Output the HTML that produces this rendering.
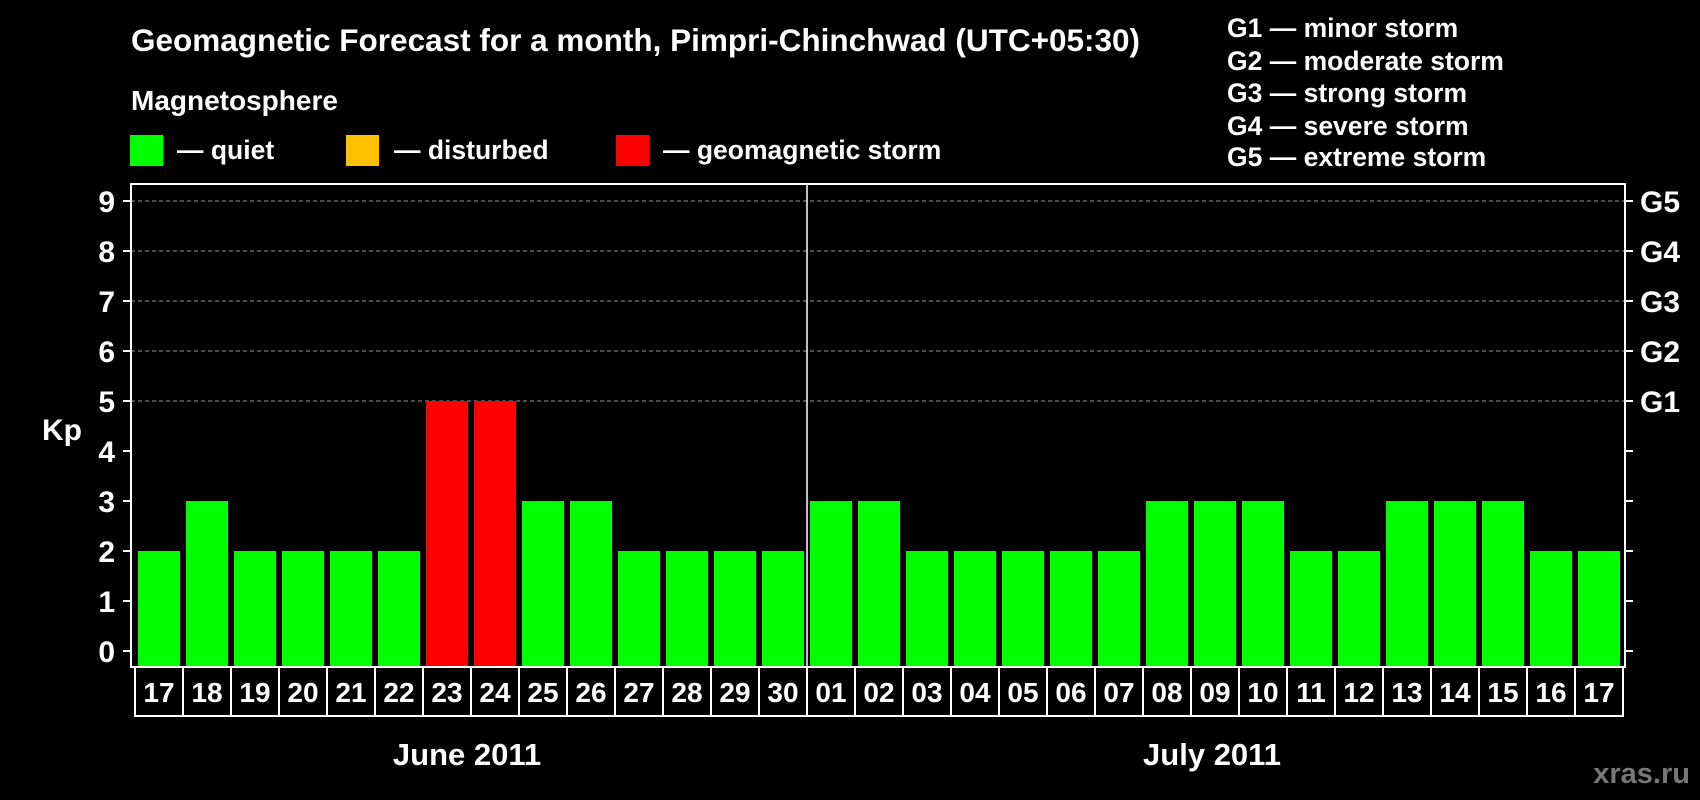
<!DOCTYPE html>
<html><head><meta charset="utf-8"><style>
html,body{margin:0;padding:0;background:#000;}
svg{display:block;font-family:"Liberation Sans",Arial,sans-serif;font-weight:bold;}
</style></head><body>
<svg id="chart" width="1700" height="800" viewBox="0 0 1700 800" xmlns="http://www.w3.org/2000/svg">
<rect width="1700" height="800" fill="#000"/>
<text x="131" y="51" fill="#fff" font-size="31.5">Geomagnetic Forecast for a month, Pimpri-Chinchwad (UTC+05:30)</text>
<text x="131" y="110" fill="#fff" font-size="28">Magnetosphere</text>
<g><rect x="130" y="135" width="33" height="31" fill="#00ff00"/><text x="177" y="159" fill="#fff" font-size="26.5">— quiet</text></g>
<g><rect x="346" y="135" width="33" height="31" fill="#ffc000"/><text x="394" y="159" fill="#fff" font-size="26.5">— disturbed</text></g>
<g><rect x="616" y="135" width="33" height="31" fill="#ff0000"/><text x="663" y="159" fill="#fff" font-size="26.5">— geomagnetic storm</text></g>
<g fill="#fff" font-size="26.5">
<text x="1227" y="37">G1 — minor storm</text>
<text x="1227" y="70">G2 — moderate storm</text>
<text x="1227" y="102">G3 — strong storm</text>
<text x="1227" y="135">G4 — severe storm</text>
<text x="1227" y="166">G5 — extreme storm</text>
</g>
<text x="42" y="440" fill="#fff" font-size="30">Kp</text>
<g id="grid"></g><g id="bars"></g><g id="axes"></g>
<text x="467" y="765" fill="#fff" font-size="31" text-anchor="middle">June 2011</text>
<text x="1212" y="765" fill="#fff" font-size="31" text-anchor="middle">July 2011</text>
<text x="1690" y="783" fill="#777" font-size="29" text-anchor="end">xras.ru</text>
</svg>
<script>
const days = ["17","18","19","20","21","22","23","24","25","26","27","28","29","30","01","02","03","04","05","06","07","08","09","10","11","12","13","14","15","16","17"];
const kpValues = [2,3,2,2,2,2,5,5,3,3,2,2,2,2,3,3,2,2,2,2,2,3,3,3,2,2,3,3,3,2,2];
const yTicks = [0,1,2,3,4,5,6,7,8,9];
const gLabels = ["G1","G2","G3","G4","G5"];
const NS="http://www.w3.org/2000/svg";
const L=131,R=1625,T=184,B=667,cellL=135,cellW=48;
const y=v=>651-v*50;
const x=i=>cellL+i*cellW;
function mk(tag,attrs,parent){const e=document.createElementNS(NS,tag);for(const k in attrs)e.setAttribute(k,attrs[k]);parent.appendChild(e);return e;}
const grid=document.getElementById('grid'),bars=document.getElementById('bars'),axes=document.getElementById('axes');
yTicks.forEach(v=>{
  if(v>=5){const g=mk('line',{x1:L,x2:R,y1:y(v),y2:y(v),stroke:'#999','stroke-dasharray':'4,3','stroke-width':1},grid);
  
  }
  const t1=mk('line',{x1:L-8,x2:L,y1:y(v),y2:y(v),stroke:'#fff','stroke-width':2},axes);
  
  
  const t2=mk('line',{x1:R,x2:R+8,y1:y(v),y2:y(v),stroke:'#fff','stroke-width':2},axes);
  
  
  const lb=mk('text',{x:115,y:y(v)+11,fill:'#fff','font-size':30,'text-anchor':'end'},axes);
  lb.textContent=v;
  
  
});
gLabels.forEach((g,i)=>{
  const lb=mk('text',{x:1640,y:y(5+i)+11,fill:'#fff','font-size':30},axes);
  lb.textContent=g;
  
  
});
kpValues.forEach((v,i)=>{
  const col=v>=5?'#ff0000':(v>=4?'#ffc000':'#00ff00');
  const b=mk('rect',{x:x(i)+3,y:y(v),width:42,height:B-1-y(v),fill:col},bars);
  
  
  const c=mk('rect',{x:x(i),y:B,width:cellW,height:49,fill:'none',stroke:'#fff','stroke-width':2},axes);
  
  
  const t=mk('text',{x:x(i)+cellW/2,y:B+35,fill:'#fff','font-size':28,'text-anchor':'middle'},axes);
  t.textContent=days[i];
  
  
});
const fr=mk('rect',{x:L,y:T,width:R-L,height:B-T,fill:'none',stroke:'#fff','stroke-width':2},axes);


const sep=mk('line',{x1:x(14),x2:x(14),y1:T,y2:B,stroke:'#fff','stroke-width':1.5},axes);


</script>
</body></html>
